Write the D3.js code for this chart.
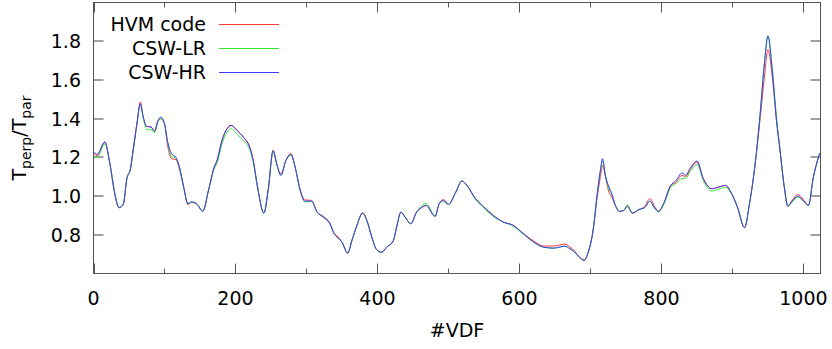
<!DOCTYPE html>
<html>
<head>
<meta charset="utf-8">
<script src="https://cdn.jsdelivr.net/npm/d3@7"></script>
<style>
  html, body { margin: 0; padding: 0; background: #fff; }
  svg text { font-family: "DejaVu Sans", sans-serif; fill: #000; }
</style>
</head>
<body>
<svg id="chart" width="832" height="349"></svg>
<script>
// VDF index of each sampled point
const vdf = [0, 5, 16, 23, 30, 36, 42, 47, 52, 56, 61, 66, 70, 75, 81, 86, 91, 95, 100, 104,
  110, 116, 121, 127, 133, 138, 145, 154, 162, 170, 174, 181, 188, 194, 202, 211, 220, 225, 231, 240,
  246, 253, 258, 264, 271, 278, 284, 291, 298, 307, 315, 324, 333, 339, 343, 350, 358, 364, 371, 379,
  385, 392, 399, 406, 413, 422, 427, 433, 439, 447, 455, 462, 469, 477, 481, 487, 493, 500, 510, 519,
  526, 538, 549, 563, 577, 591, 603, 620, 634, 648, 664, 671, 678, 683, 691, 697, 704, 709, 714, 717,
  721, 726, 730, 735, 741, 747, 752, 759, 768, 776, 784, 790, 796, 803, 813, 820, 829, 834, 840, 850,
  859, 871, 881, 890, 899, 907, 917, 924, 932, 939, 945, 950, 956, 962, 967, 973, 978, 984, 992, 1000,
  1007, 1014, 1023];

const hvm = [1.222, 1.210, 1.279, 1.169, 1.012, 0.940, 0.955, 1.090, 1.140, 1.240, 1.370, 1.486, 1.408, 1.360, 1.357, 1.336, 1.391, 1.400, 1.374, 1.270,
  1.193, 1.188, 1.140, 1.047, 0.955, 0.969, 0.961, 0.922, 1.030, 1.150, 1.184, 1.288, 1.348, 1.365, 1.340, 1.305, 1.253, 1.184, 1.047, 0.912,
  1.030, 1.238, 1.167, 1.116, 1.184, 1.220, 1.150, 1.035, 0.980, 0.978, 0.917, 0.895, 0.860, 0.806, 0.795, 0.762, 0.705, 0.771, 0.848, 0.915,
  0.874, 0.788, 0.722, 0.710, 0.736, 0.767, 0.840, 0.917, 0.891, 0.857, 0.917, 0.940, 0.952, 0.909, 0.895, 0.961, 0.982, 0.957, 1.018, 1.078,
  1.055, 0.987, 0.947, 0.900, 0.866, 0.849, 0.814, 0.768, 0.742, 0.742, 0.752, 0.738, 0.715, 0.690, 0.672, 0.711, 0.831, 0.980, 1.100, 1.159,
  1.100, 1.020, 0.995, 0.952, 0.921, 0.926, 0.947, 0.912, 0.930, 0.945, 0.987, 0.948, 0.922, 0.961, 1.055, 1.070, 1.107, 1.100, 1.135, 1.175,
  1.090, 1.038, 1.047, 1.055, 1.012, 0.943, 0.837, 0.961, 1.167, 1.400, 1.615, 1.757, 1.620, 1.391, 1.236, 1.047, 0.948, 0.978, 1.008, 0.982,
  0.952, 1.098, 1.222];

const cswLR = [1.205, 1.200, 1.270, 1.169, 1.012, 0.940, 0.960, 1.090, 1.140, 1.240, 1.370, 1.470, 1.408, 1.343, 1.343, 1.328, 1.385, 1.400, 1.374, 1.288,
  1.205, 1.195, 1.150, 1.047, 0.961, 0.969, 0.961, 0.922, 1.030, 1.140, 1.170, 1.270, 1.330, 1.348, 1.320, 1.288, 1.240, 1.175, 1.047, 0.912,
  1.030, 1.233, 1.167, 1.107, 1.184, 1.210, 1.150, 1.030, 0.970, 0.974, 0.917, 0.890, 0.857, 0.806, 0.788, 0.762, 0.705, 0.771, 0.848, 0.912,
  0.874, 0.788, 0.722, 0.710, 0.736, 0.767, 0.840, 0.917, 0.891, 0.857, 0.917, 0.948, 0.962, 0.915, 0.895, 0.961, 0.972, 0.957, 1.018, 1.078,
  1.055, 0.982, 0.942, 0.895, 0.866, 0.845, 0.810, 0.762, 0.736, 0.731, 0.741, 0.728, 0.710, 0.690, 0.668, 0.711, 0.831, 0.995, 1.133, 1.180,
  1.107, 1.035, 1.012, 0.952, 0.921, 0.926, 0.955, 0.912, 0.930, 0.940, 0.974, 0.940, 0.918, 0.955, 1.045, 1.064, 1.090, 1.090, 1.124, 1.164,
  1.080, 1.026, 1.036, 1.045, 1.008, 0.943, 0.837, 0.961, 1.167, 1.426, 1.690, 1.830, 1.665, 1.410, 1.236, 1.047, 0.948, 0.968, 0.995, 0.974,
  0.952, 1.098, 1.222];

const cswHR = [1.231, 1.215, 1.279, 1.169, 1.012, 0.940, 0.960, 1.090, 1.140, 1.240, 1.370, 1.477, 1.408, 1.360, 1.357, 1.336, 1.391, 1.408, 1.374, 1.288,
  1.219, 1.200, 1.150, 1.047, 0.961, 0.969, 0.961, 0.922, 1.030, 1.150, 1.184, 1.288, 1.348, 1.365, 1.340, 1.305, 1.253, 1.184, 1.047, 0.912,
  1.030, 1.233, 1.167, 1.107, 1.184, 1.215, 1.150, 1.030, 0.974, 0.974, 0.917, 0.890, 0.857, 0.806, 0.788, 0.762, 0.705, 0.771, 0.848, 0.912,
  0.874, 0.788, 0.722, 0.710, 0.736, 0.767, 0.840, 0.917, 0.891, 0.857, 0.917, 0.940, 0.952, 0.909, 0.895, 0.961, 0.978, 0.957, 1.018, 1.078,
  1.055, 0.987, 0.947, 0.900, 0.866, 0.849, 0.814, 0.762, 0.736, 0.731, 0.741, 0.728, 0.710, 0.690, 0.668, 0.711, 0.831, 0.995, 1.133, 1.193,
  1.107, 1.047, 1.012, 0.952, 0.921, 0.926, 0.947, 0.912, 0.930, 0.940, 0.974, 0.940, 0.922, 0.961, 1.055, 1.078, 1.119, 1.107, 1.142, 1.181,
  1.090, 1.038, 1.047, 1.055, 1.012, 0.943, 0.837, 0.961, 1.167, 1.426, 1.684, 1.825, 1.649, 1.391, 1.236, 1.047, 0.948, 0.974, 1.000, 0.974,
  0.952, 1.098, 1.222];

const seriesNames = ['HVM code', 'CSW-LR', 'CSW-HR'];
const seriesColors = ['#ff3838', '#30e830', '#3838ff'];
const xTicks = [0, 200, 400, 600, 800, 1000];
const xMinor = [100, 300, 500, 700, 900];
const yTicks = [0.8, 1.0, 1.2, 1.4, 1.6, 1.8];

const svg = d3.select('#chart');

// plot box
const boxL = 93.5, boxR = 820.5, boxT = 2.5, boxB = 273.5;

const x = d3.scaleLinear().domain([0, 1024]).range([boxL, boxR]);
const y = d3.scaleLinear().domain([0.6, 2.0]).range([boxB, boxT]);

// y ticks (grey, both sides, inward)
svg.append('g').selectAll('line').data(yTicks).enter()
  .append('line')
  .attr('x1', boxL).attr('x2', boxL + 10)
  .attr('y1', (d) => Math.round(y(d))).attr('y2', (d) => Math.round(y(d)))
  .attr('stroke', '#a0a0a0').attr('stroke-width', 2);
svg.append('g').selectAll('line').data(yTicks).enter()
  .append('line')
  .attr('x1', boxR - 10).attr('x2', boxR)
  .attr('y1', (d) => Math.round(y(d))).attr('y2', (d) => Math.round(y(d)))
  .attr('stroke', '#a0a0a0').attr('stroke-width', 2);

// x ticks, bottom and top, inward
const xt = svg.append('g').attr('stroke', '#555').attr('stroke-width', 1);
xTicks.forEach((d) => {
  const px = Math.round(x(d)) + 0.5;
  xt.append('line').attr('x1', px).attr('x2', px).attr('y1', boxB).attr('y2', boxB - 10);
  xt.append('line').attr('x1', px).attr('x2', px).attr('y1', boxT).attr('y2', boxT + 10);
});
xMinor.forEach((d) => {
  const px = Math.round(x(d)) + 0.5;
  xt.append('line').attr('x1', px).attr('x2', px).attr('y1', boxB).attr('y2', boxB - 5);
  xt.append('line').attr('x1', px).attr('x2', px).attr('y1', boxT).attr('y2', boxT + 5);
});

// tick labels
svg.append('g').selectAll('text').data(yTicks).enter()
  .append('text')
  .attr('x', 81).attr('y', (d) => y(d) + 7)
  .attr('text-anchor', 'end').attr('font-size', 19)
  .text((d) => d3.format('.1f')(d));

svg.append('g').selectAll('text').data(xTicks).enter()
  .append('text')
  .attr('x', (d) => x(d)).attr('y', 305)
  .attr('text-anchor', 'middle').attr('font-size', 19)
  .text((d) => d);

// axis titles
svg.append('text')
  .attr('x', 457).attr('y', 337)
  .attr('text-anchor', 'middle').attr('font-size', 19)
  .text('#VDF');

const yl = svg.append('text')
  .attr('transform', 'translate(26,138) rotate(-90)')
  .attr('text-anchor', 'middle').attr('font-size', 19);
yl.append('tspan').text('T');
yl.append('tspan').attr('font-size', 14).attr('dy', 5).text('perp');
yl.append('tspan').attr('dy', -5).text('/T');
yl.append('tspan').attr('font-size', 14).attr('dy', 5).text('par');

// curves
const allSeries = [hvm, cswLR, cswHR];
const line = d3.line()
  .x((d) => x(d[0]))
  .y((d) => y(d[1]))
  .curve(d3.curveMonotoneX);

const plot = svg.append('g');
allSeries.forEach((vals, i) => {
  const pts = vdf.map((v, j) => [v, vals[j]]);
  plot.append('path')
    .datum(pts)
    .attr('d', line)
    .attr('fill', 'none')
    .attr('stroke', seriesColors[i])
    .attr('stroke-width', 1);
});

// legend
const lg = svg.append('g');
seriesNames.forEach((name, i) => {
  const ly = 24 + i * 24;
  lg.append('text')
    .attr('x', 206).attr('y', ly + 7)
    .attr('text-anchor', 'end').attr('font-size', 19)
    .text(name);
  lg.append('line')
    .attr('x1', 219).attr('x2', 279)
    .attr('y1', ly + 0.5).attr('y2', ly + 0.5)
    .attr('stroke', seriesColors[i]).attr('stroke-width', 1);
});

// frame
svg.append('rect')
  .attr('x', boxL).attr('y', boxT)
  .attr('width', boxR - boxL).attr('height', boxB - boxT)
  .attr('fill', 'none').attr('stroke', '#555').attr('stroke-width', 1);
</script>
</body>
</html>
